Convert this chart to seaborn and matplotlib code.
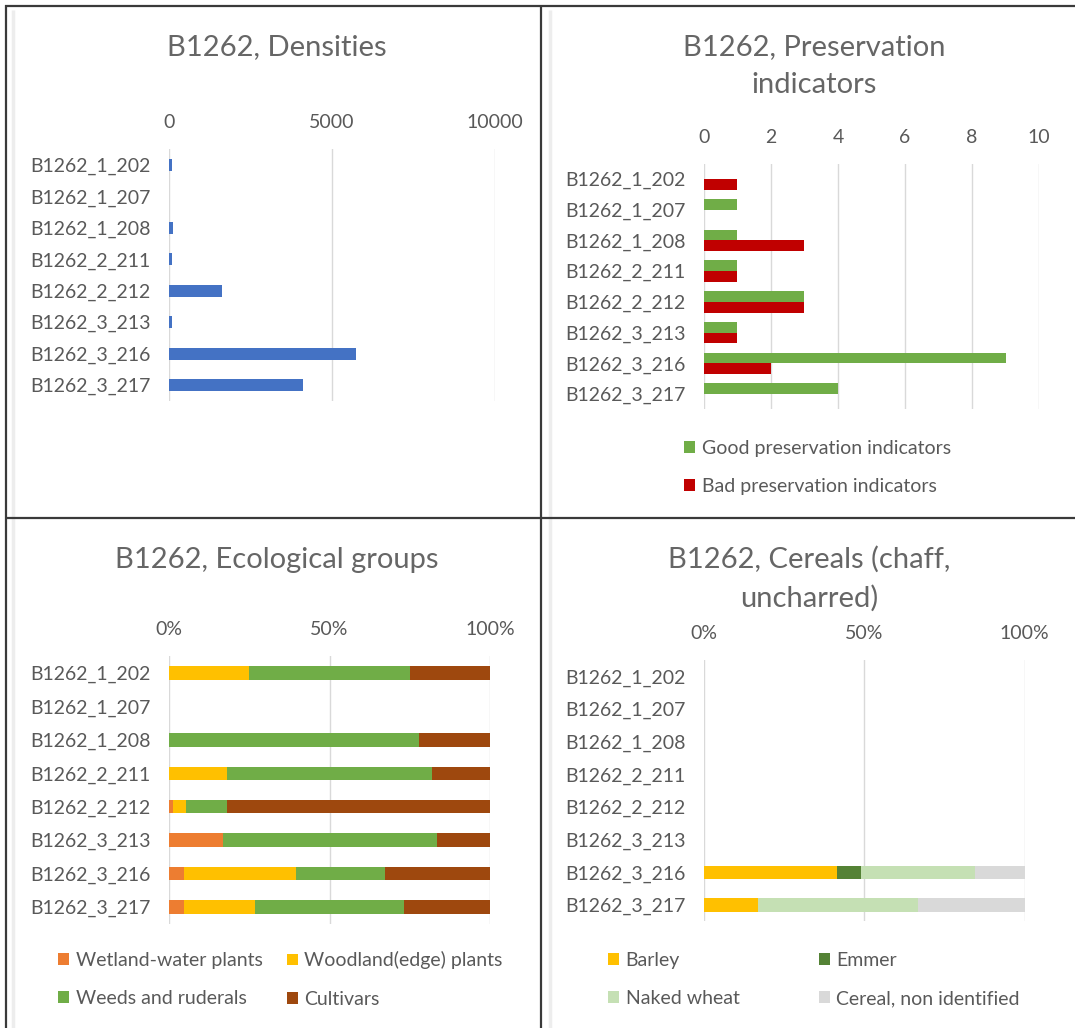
import numpy as np
import pandas as pd
import matplotlib
matplotlib.use("Agg")
import matplotlib.pyplot as plt
from matplotlib.patches import Patch
from matplotlib.lines import Line2D
import seaborn as sns

# ---------------- data ----------------
samples = ["B1262_1_202", "B1262_1_207", "B1262_1_208", "B1262_2_211",
           "B1262_2_212", "B1262_3_213", "B1262_3_216", "B1262_3_217"]

densities = [80, 0, 110, 100, 1640, 100, 5740, 4100]

pres_labels = ["Good preservation indicators", "Bad preservation indicators"]
good_pres = [0, 1, 1, 1, 3, 1, 9, 4]
bad_pres = [1, 0, 3, 1, 3, 1, 2, 0]

eco_labels = ["Wetland-water plants", "Woodland(edge) plants",
              "Weeds and ruderals", "Cultivars"]
wetland = [0, 0, 0, 0, 1.3, 16.7, 4.6, 4.8]
woodland = [25, 0, 0, 18.2, 4.1, 0, 34.9, 21.9]
weeds = [50, 0, 78, 63.6, 12.8, 66.7, 27.7, 46.6]
cultivars = [25, 0, 22, 18.2, 81.8, 16.6, 32.8, 26.7]

cereal_labels = ["Barley", "Emmer", "Naked wheat", "Cereal, non identified"]
barley = [0, 0, 0, 0, 0, 0, 41.5, 16.7]
emmer = [0, 0, 0, 0, 0, 0, 7.4, 0]
naked_wheat = [0, 0, 0, 0, 0, 0, 35.7, 50.0]
cereal_ni = [0, 0, 0, 0, 0, 0, 15.4, 33.3]

# ---------------- style ----------------
TEXT = "#595959"
TITLE_COLOR = "#666666"
GRID = "#D9D9D9"
BLUE = "#4472C4"
GREEN = "#70AD47"
RED = "#C00000"
eco_colors = ["#ED7D31", "#FFC000", "#70AD47", "#9E480E"]
cereal_colors = ["#FFC000", "#548235", "#C5E0B4", "#D9D9D9"]

plt.rcParams["font.family"] = ["Lato", "DejaVu Sans"]

W, H = 1075, 1028
fig = plt.figure(figsize=(W / 100, H / 100), dpi=100)
fig.patch.set_facecolor("white")

TICK_FS = 14
TITLE_FS = 21
LEG_FS = 14


def add_axes_px(x0, x1, y_top, y_bot):
    return fig.add_axes([x0 / W, 1 - y_bot / H, (x1 - x0) / W, (y_bot - y_top) / H])


def style_axes(ax, xlim, ticks, labels):
    ax.set_xlim(*xlim)
    ax.set_xticks(ticks)
    ax.set_xticklabels(labels)
    ax.set_ylim(len(samples) - 0.5, -0.5)
    ax.xaxis.tick_top()
    ax.tick_params(axis="both", length=0, colors=TEXT, labelsize=TICK_FS, pad=13)
    for s in ax.spines.values():
        s.set_visible(False)
    ax.grid(axis="x", color=GRID, lw=1)
    ax.grid(axis="y", visible=False)
    ax.set_axisbelow(True)
    ax.set_xlabel("")
    ax.set_ylabel("")
    ax.set_facecolor("none")


def stacked_percent(ax, layers, colors):
    arr = np.array(layers, dtype=float)
    tot = arr.sum(axis=0)
    frac = np.divide(arr, tot, out=np.zeros_like(arr), where=tot > 0)
    cum = np.cumsum(frac, axis=0)
    # draw cumulative totals from the outermost layer inwards
    for k in range(len(layers) - 1, -1, -1):
        sns.barplot(x=cum[k], y=samples, orient="h", color=colors[k],
                    saturation=1, width=0.4, errorbar=None, linewidth=0, ax=ax)


def title_px(text, xc, yc):
    fig.text(xc / W, 1 - yc / H, text, ha="center", va="center",
             fontsize=TITLE_FS, color=TITLE_COLOR, linespacing=1.55)


def legend_px(labels, colors, x_left, y_center):
    handles = [Patch(facecolor=c, edgecolor="none") for c in colors]
    fig.legend(handles, labels, loc="center left",
               bbox_to_anchor=(x_left / W, 1 - y_center / H),
               frameon=False, fontsize=LEG_FS, labelcolor=TEXT,
               handlelength=0.55, handleheight=0.55, handletextpad=0.35,
               labelspacing=1.1, borderpad=0, borderaxespad=0)


# ---------------- panel 1: densities ----------------
ax1 = add_axes_px(169, 495, 149.3, 400.7)
sns.barplot(x=densities, y=samples, orient="h", color=BLUE, saturation=1,
            width=0.38, errorbar=None, linewidth=0, ax=ax1)
style_axes(ax1, (0, 10000), [0, 5000, 10000], ["0", "5000", "10000"])
title_px("B1262, Densities", 277, 47)

# ---------------- panel 2: preservation indicators ----------------
pres_df = pd.DataFrame({
    "sample": samples * 2,
    "indicator": [pres_labels[0]] * len(samples) + [pres_labels[1]] * len(samples),
    "count": good_pres + bad_pres,
})
ax2 = add_axes_px(704, 1039, 163.6, 409.4)
sns.barplot(data=pres_df, x="count", y="sample", hue="indicator",
            hue_order=pres_labels, palette=[GREEN, RED], orient="h",
            saturation=1, width=0.7, errorbar=None, linewidth=0,
            legend=False, ax=ax2)
style_axes(ax2, (0, 10), list(range(0, 11, 2)), [str(v) for v in range(0, 11, 2)])
title_px("B1262, Preservation\nindicators", 814, 66)
legend_px(pres_labels, [GREEN, RED], 684, 467.5)

# ---------------- panel 3: ecological groups ----------------
ax3 = add_axes_px(169, 490, 656.3, 923.7)
stacked_percent(ax3, [wetland, woodland, weeds, cultivars], eco_colors)
style_axes(ax3, (0, 1), [0, 0.5, 1], ["0%", "50%", "100%"])
title_px("B1262, Ecological groups", 277, 560)
legend_px([eco_labels[0], eco_labels[2]], [eco_colors[0], eco_colors[2]], 58, 979.5)
legend_px([eco_labels[1], eco_labels[3]], [eco_colors[1], eco_colors[3]], 287, 979.5)

# ---------------- panel 4: cereals ----------------
ax4 = add_axes_px(704, 1024.5, 660.2, 921.3)
stacked_percent(ax4, [barley, emmer, naked_wheat, cereal_ni], cereal_colors)
style_axes(ax4, (0, 1), [0, 0.5, 1], ["0%", "50%", "100%"])
title_px("B1262, Cereals (chaff,\nuncharred)", 809, 579)
legend_px([cereal_labels[0], cereal_labels[2]], [cereal_colors[0], cereal_colors[2]], 608, 979.5)
legend_px([cereal_labels[1], cereal_labels[3]], [cereal_colors[1], cereal_colors[3]], 819, 979.5)

# ---------------- panel frames ----------------
def line_px(xs, ys, color, lw):
    fig.add_artist(Line2D([x / W for x in xs], [1 - y / H for y in ys],
                          color=color, lw=lw, solid_capstyle="butt"))

for xv in (13, 550):
    line_px([xv, xv], [10, 1028], "#EDEDED", 2.5)
line_px([6, 6], [5, 1028], "#3A3A3A", 1.6)
line_px([5, 1075], [6, 6], "#3A3A3A", 1.6)
line_px([541, 541], [6, 1028], "#3A3A3A", 1.6)
line_px([6, 1075], [518, 518], "#3A3A3A", 1.6)

fig.savefig("out.png", dpi=100, facecolor="white")
